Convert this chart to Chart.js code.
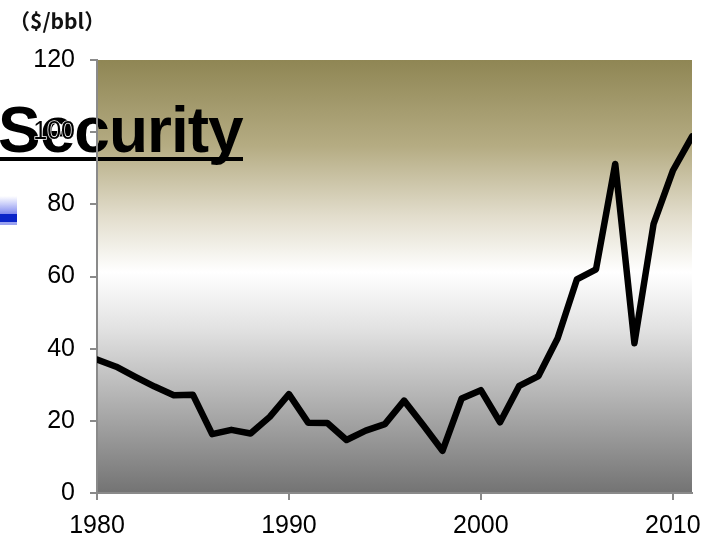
<!DOCTYPE html>
<html>
<head>
<meta charset="utf-8">
<script src="https://cdn.jsdelivr.net/npm/chart.js@4"></script>
<style>
  html, body { margin: 0; padding: 0; background: #ffffff; }
  #wrap { position: relative; width: 702px; height: 540px; }
  #unit {
    position: absolute; left: 9px; top: 5px;
    font-family: "Noto Sans CJK JP", sans-serif; font-weight: bold;
    font-size: 21px; color: #111; white-space: nowrap;
  }
</style>
</head>
<body>
<div id="wrap">
  <canvas id="c" width="702" height="540"></canvas>
  <div id="unit">（$/bbl）</div>
</div>
<script>
// Crude oil price, annual average (US$ per barrel)
const years = [1980, 1981, 1982, 1983, 1984, 1985, 1986, 1987, 1988, 1989,
               1990, 1991, 1992, 1993, 1994, 1995, 1996, 1997, 1998, 1999,
               2000, 2001, 2002, 2003, 2004, 2005, 2006, 2007, 2008, 2009,
               2010, 2011];
const prices = [37.0, 35.0, 32.2, 29.5, 27.1, 27.2, 16.3, 17.5, 16.5, 21.1,
                27.4, 19.5, 19.4, 14.7, 17.3, 19.1, 25.6, 18.8, 11.7, 26.2,
                28.5, 19.6, 29.7, 32.4, 42.9, 59.2, 62.0, 91.2, 41.5, 74.6,
                89.3, 98.8];
const yearTicks = [1980, 1990, 2000, 2010];
const priceTicks = [0, 20, 40, 60, 80, 100, 120];
const headline = "Security";

// Plot background: olive at the top fading through white to grey
const backdrop = {
  id: 'backdrop',
  beforeDraw(chart) {
    const { ctx, chartArea: a } = chart;
    const g = ctx.createLinearGradient(0, a.top, 0, a.bottom);
    g.addColorStop(0, '#8f8654');
    g.addColorStop(0.2, '#b5ac83');
    g.addColorStop(0.36, '#e2ddcc');
    g.addColorStop(0.49, '#ffffff');
    g.addColorStop(0.62, '#e2e2e2');
    g.addColorStop(1, '#737373');
    ctx.save();
    ctx.fillStyle = g;
    ctx.fillRect(a.left, a.top, a.right - a.left, a.bottom - a.top);

    // blue bar fragment at the left edge
    const bg = ctx.createLinearGradient(0, 196, 0, 214);
    bg.addColorStop(0, 'rgba(140,150,245,0)');
    bg.addColorStop(1, '#8089ee');
    ctx.fillStyle = bg;
    ctx.fillRect(0, 196, 17, 18);
    ctx.fillStyle = '#0a24c8';
    ctx.fillRect(0, 214, 17, 8);
    ctx.fillStyle = '#9aa2f0';
    ctx.fillRect(0, 222, 17, 3);

    // headline with underline
    ctx.font = 'bold 64px "Liberation Sans", Arial, sans-serif';
    ctx.letterSpacing = '-1px';
    ctx.fillStyle = '#000';
    ctx.textBaseline = 'alphabetic';
    ctx.textAlign = 'left';
    ctx.fillText(headline, -2, 152);
    ctx.letterSpacing = '0px';
    ctx.fillRect(0, 157, 243, 4);
    ctx.restore();
  }
};

new Chart(document.getElementById('c'), {
  type: 'line',
  data: {
    datasets: [{
      data: years.map((y, i) => ({ x: y, y: prices[i] })),
      borderColor: '#000000',
      borderWidth: 6.5,
      borderJoinStyle: 'round',
      borderCapStyle: 'round',
      pointRadius: 0,
      tension: 0,
      fill: false
    }]
  },
  options: {
    responsive: false,
    animation: false,
    layout: { padding: { top: 60, right: 10, left: 0, bottom: 0 } },
    plugins: { legend: { display: false }, tooltip: { enabled: false } },
    scales: {
      x: {
        type: 'linear',
        min: years[0],
        max: years[years.length - 1],
        afterBuildTicks(s) { s.ticks = yearTicks.map(v => ({ value: v })); },
        afterFit(s) { s.height = 47; s.paddingLeft = 0; s.paddingRight = 0; },
        border: { color: '#8a8a8a', width: 2 },
        grid: { drawOnChartArea: false, tickLength: 7, color: '#8a8a8a', lineWidth: 2 },
        ticks: {
          color: '#000',
          padding: 11,
          maxRotation: 0,
          autoSkip: false,
          font: { family: '"Liberation Sans Narrow", "Liberation Sans", sans-serif', size: 25 },
          callback: v => String(v)
        }
      },
      y: {
        min: priceTicks[0],
        max: priceTicks[priceTicks.length - 1],
        afterBuildTicks(s) { s.ticks = priceTicks.map(v => ({ value: v })); },
        afterFit(s) { s.width = 97; s.paddingTop = 0; s.paddingBottom = 0; },
        border: { color: '#8a8a8a', width: 2 },
        grid: { drawOnChartArea: false, tickLength: 7, color: '#8a8a8a', lineWidth: 2 },
        ticks: {
          color: '#000',
          padding: 15,
          textStrokeColor: '#ffffff',
          textStrokeWidth: 1.5,
          font: { family: '"Liberation Sans Narrow", "Liberation Sans", sans-serif', size: 25 }
        }
      }
    }
  },
  plugins: [backdrop]
});
</script>
</body>
</html>
